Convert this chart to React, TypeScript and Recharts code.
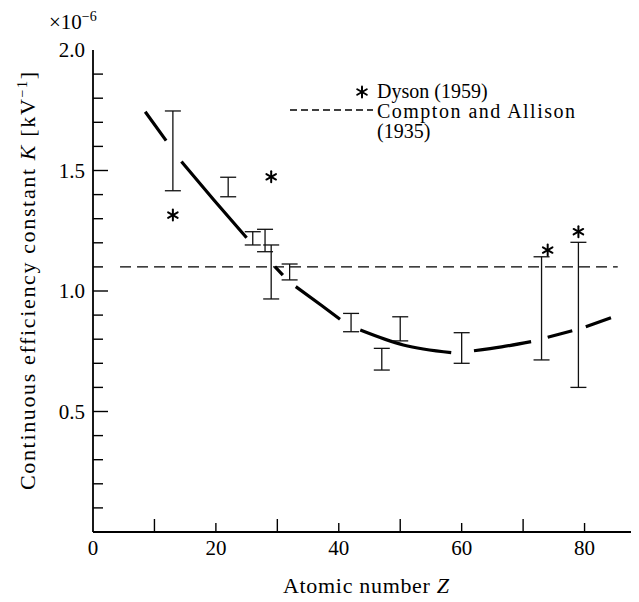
import React, { useEffect } from 'react';
import { ComposedChart, Line, Scatter, XAxis, YAxis, ErrorBar, Label } from 'recharts';

const FONT = '"Liberation Serif", "Times New Roman", Times, serif';
const TS: React.CSSProperties = { fontFamily: FONT };

// Measured data (Atomic number Z vs K ×10^-6 kV^-1)
const barZ = [13, 22, 26, 28, 29, 32, 42, 47, 50, 60, 73, 79];
const barLow = [1.416, 1.391, 1.191, 1.163, 0.967, 1.046, 0.831, 0.672, 0.793, 0.700, 0.714, 0.600];
const barHigh = [1.747, 1.472, 1.246, 1.256, 1.191, 1.112, 0.907, 0.762, 0.893, 0.827, 1.142, 1.202];

// Dyson (1959)
const dysonZ = [13, 29, 74, 79];
const dysonK = [1.315, 1.474, 1.170, 1.246];

// Compton and Allison (1935)
const comptonZ = [4.4, 85.4];
const comptonK = [1.1, 1.1];

// Fitted curve, drawn in broken segments (null = gap)
const curveZ = [8.5, 11.9, 13.1, 14.4, 19.6, 25.0, 27.3, 29.6, 30.9, 32.0, 33.0, 37.1, 40.2, 41.8, 43.5, 50.5, 58.3, 60.2, 62.0, 66.5, 71.3, 72.7, 74.0, 78.0, 79.1, 80.2, 84.3];
const curveK: (number | null)[] = [1.744, 1.624, null, 1.537, 1.380, 1.221, null, 1.101, 1.066, null, 1.018, 0.942, 0.883, null, 0.838, 0.776, 0.744, null, 0.752, 0.768, 0.790, null, 0.808, 0.835, null, 0.852, 0.889];

const xTicks = [0, 10, 20, 30, 40, 50, 60, 70, 80, 90];
const xLabels = [0, 20, 40, 60, 80];
const yTicks = [0, 0.1, 0.2, 0.3, 0.4, 0.5, 0.6, 0.7, 0.8, 0.9, 1.0, 1.1, 1.2, 1.3, 1.4, 1.5, 1.6, 1.7, 1.8, 1.9, 2.0];
const yLabels = ['0.5', '1.0', '1.5', '2.0'];

const barData = barZ.map((z, i) => ({
  atomic: z,
  k: (barLow[i] + barHigh[i]) / 2,
  err: (barHigh[i] - barLow[i]) / 2,
}));
const dysonData = dysonZ.map((z, i) => ({ atomic: z, k: dysonK[i] }));
const comptonData = comptonZ.map((z, i) => ({ atomic: z, k: comptonK[i] }));
const curveData = curveZ.map((z, i) => ({ atomic: z, k: curveK[i] }));

const isMajorY = (v: number) => Math.abs(v * 2 - Math.round(v * 2)) < 1e-6;
const isEvenDecade = (v: number) => Math.round(v) % 20 === 0;

const BottomTick = (p: any) => {
  const { x, y, payload } = p;
  const v = payload.value;
  const len = isEvenDecade(v) ? 9 : 13;
  return (
    <g>
      {v > 0 && v < 90 && <line x1={x} y1={y} x2={x} y2={y - len} stroke="#000" strokeWidth={1.4} />}
      {xLabels.includes(v) && (
        <text x={x} y={y + 23} textAnchor="middle" style={TS} fontSize={21} fill="#000">{v}</text>
      )}
    </g>
  );
};

const TopTick = (p: any) => {
  const { x, y, payload } = p;
  const v = payload.value;
  const len = isEvenDecade(v) ? 7 : 11;
  if (v <= 0 || v >= 90) return <g />;
  return <line x1={x} y1={y} x2={x} y2={y + len} stroke="#000" strokeWidth={1.4} />;
};

const LeftTick = (p: any) => {
  const { x, y, payload } = p;
  const v = payload.value;
  const major = isMajorY(v);
  const lbl = v.toFixed(1);
  return (
    <g>
      {v > 0.01 && v < 1.99 && <line x1={x} y1={y} x2={x + (major ? 15 : 10)} y2={y} stroke="#000" strokeWidth={1.4} />}
      {yLabels.includes(lbl) && (
        <text x={x - 8} y={y + 7} textAnchor="end" style={TS} fontSize={21} fill="#000">{lbl}</text>
      )}
    </g>
  );
};

const RightTick = (p: any) => {
  const { x, y, payload } = p;
  const v = payload.value;
  const major = isMajorY(v);
  if (v < 0.01 || v > 1.99) return <g />;
  return <line x1={x} y1={y} x2={x - (major ? 13 : 6)} y2={y} stroke="#000" strokeWidth={1.4} />;
};

const Star = (p: any) => {
  const { cx, cy } = p;
  const r = 5.5;
  return (
    <g stroke="#000" strokeWidth={2} strokeLinecap="round">
      <line x1={cx} y1={cy - r} x2={cx} y2={cy + r} />
      <line x1={cx - r * 0.87} y1={cy - r * 0.5} x2={cx + r * 0.87} y2={cy + r * 0.5} />
      <line x1={cx - r * 0.87} y1={cy + r * 0.5} x2={cx + r * 0.87} y2={cy - r * 0.5} />
    </g>
  );
};

const Empty = () => <g />;

const XTitle = () => (
  <text x={358} y={585} textAnchor="middle" style={TS} fontSize={22} textLength={166} lengthAdjust="spacing" fill="#000">
    Atomic number <tspan fontStyle="italic">Z</tspan>
  </text>
);

const YTitle = () => (
  <text transform="translate(27,273) rotate(-90)" textAnchor="middle" style={TS} fontSize={22} textLength={418} lengthAdjust="spacing" fill="#000">
    Continuous efficiency constant <tspan fontStyle="italic">K</tspan> [kV<tspan dy={-8} fontSize={14}>−1</tspan><tspan dy={8}>]</tspan>
  </text>
);

export default function App() {
  useEffect(() => {
    document.body.style.overflow = 'hidden';
  }, []);
  return (
    <div style={{ position: 'relative', width: 631, height: 594, marginBottom: -8, background: '#fff', fontFamily: FONT }}>
      <ComposedChart
        width={631}
        height={594}
        margin={{ top: 42, right: -7, bottom: 20, left: 25 }}
        style={{ overflow: 'hidden' }}
      >
        <XAxis
          xAxisId={0}
          dataKey="atomic"
          type="number"
          domain={[0, 90]}
          ticks={xTicks}
          interval={0}
          height={50}
          tickSize={0}
          tickMargin={0}
          tickLine={false}
          tick={<BottomTick />}
          axisLine={{ stroke: '#000', strokeWidth: 1.8 }}
        >
          <Label content={<XTitle />} />
        </XAxis>
        <XAxis
          xAxisId="top"
          orientation="top"
          dataKey="atomic"
          type="number"
          domain={[0, 90]}
          ticks={xTicks}
          interval={0}
          height={0}
          tickSize={0}
          tickMargin={0}
          tickLine={false}
          tick={<TopTick />}
          axisLine={{ stroke: '#000', strokeWidth: 1.5 }}
        />
        <YAxis
          yAxisId={0}
          dataKey="k"
          type="number"
          domain={[0, 2]}
          ticks={yTicks}
          interval={0}
          width={60}
          tickSize={0}
          tickMargin={0}
          tickLine={false}
          tick={<LeftTick />}
          axisLine={{ stroke: '#000', strokeWidth: 1.8 }}
        >
          <Label content={<YTitle />} />
        </YAxis>
        <YAxis
          yAxisId="right"
          orientation="right"
          dataKey="k"
          type="number"
          domain={[0, 2]}
          ticks={yTicks}
          interval={0}
          width={0}
          tickSize={0}
          tickMargin={0}
          tickLine={false}
          tick={<RightTick />}
          axisLine={{ stroke: '#000', strokeWidth: 1.5 }}
        />
        <Line
          data={comptonData}
          dataKey="k"
          xAxisId={0}
          yAxisId={0}
          stroke="#000"
          strokeWidth={1.4}
          strokeDasharray="11 6"
          dot={false}
          activeDot={false}
          isAnimationActive={false}
        />
        <Line
          data={curveData}
          dataKey="k"
          xAxisId={0}
          yAxisId={0}
          type="monotone"
          stroke="#000"
          strokeWidth={3.2}
          dot={false}
          activeDot={false}
          connectNulls={false}
          isAnimationActive={false}
        />
        <Scatter data={barData} dataKey="k" xAxisId={0} yAxisId={0} shape={<Empty />} isAnimationActive={false}>
          <ErrorBar dataKey="err" direction="y" width={8} stroke="#111" strokeWidth={1.3} isAnimationActive={false} />
        </Scatter>
        <Scatter data={dysonData} dataKey="k" xAxisId={0} yAxisId={0} shape={<Star />} isAnimationActive={false} />
      </ComposedChart>
      <svg
        width={631}
        height={594}
        style={{ position: 'absolute', left: 0, top: 0, pointerEvents: 'none', overflow: 'visible' }}
      >
        <text x={41} y={21} style={TS} fontSize={21} fill="#000">
          ×10<tspan dy={-8} fontSize={14}>−6</tspan>
        </text>
        <g transform="translate(272,67)">
          <Star cx={82} cy={17} />
          <text x={97} y={23} style={TS} fontSize={20} fill="#000">Dyson (1959)</text>
          <line x1={10} y1={35} x2={93} y2={35} stroke="#000" strokeWidth={1.3} strokeDasharray="7 4" />
          <text x={97} y={43} style={TS} fontSize={20} textLength={198} lengthAdjust="spacing" fill="#000">Compton and Allison</text>
          <text x={97} y={63} style={TS} fontSize={20} fill="#000">(1935)</text>
        </g>
      </svg>
    </div>
  );
}
